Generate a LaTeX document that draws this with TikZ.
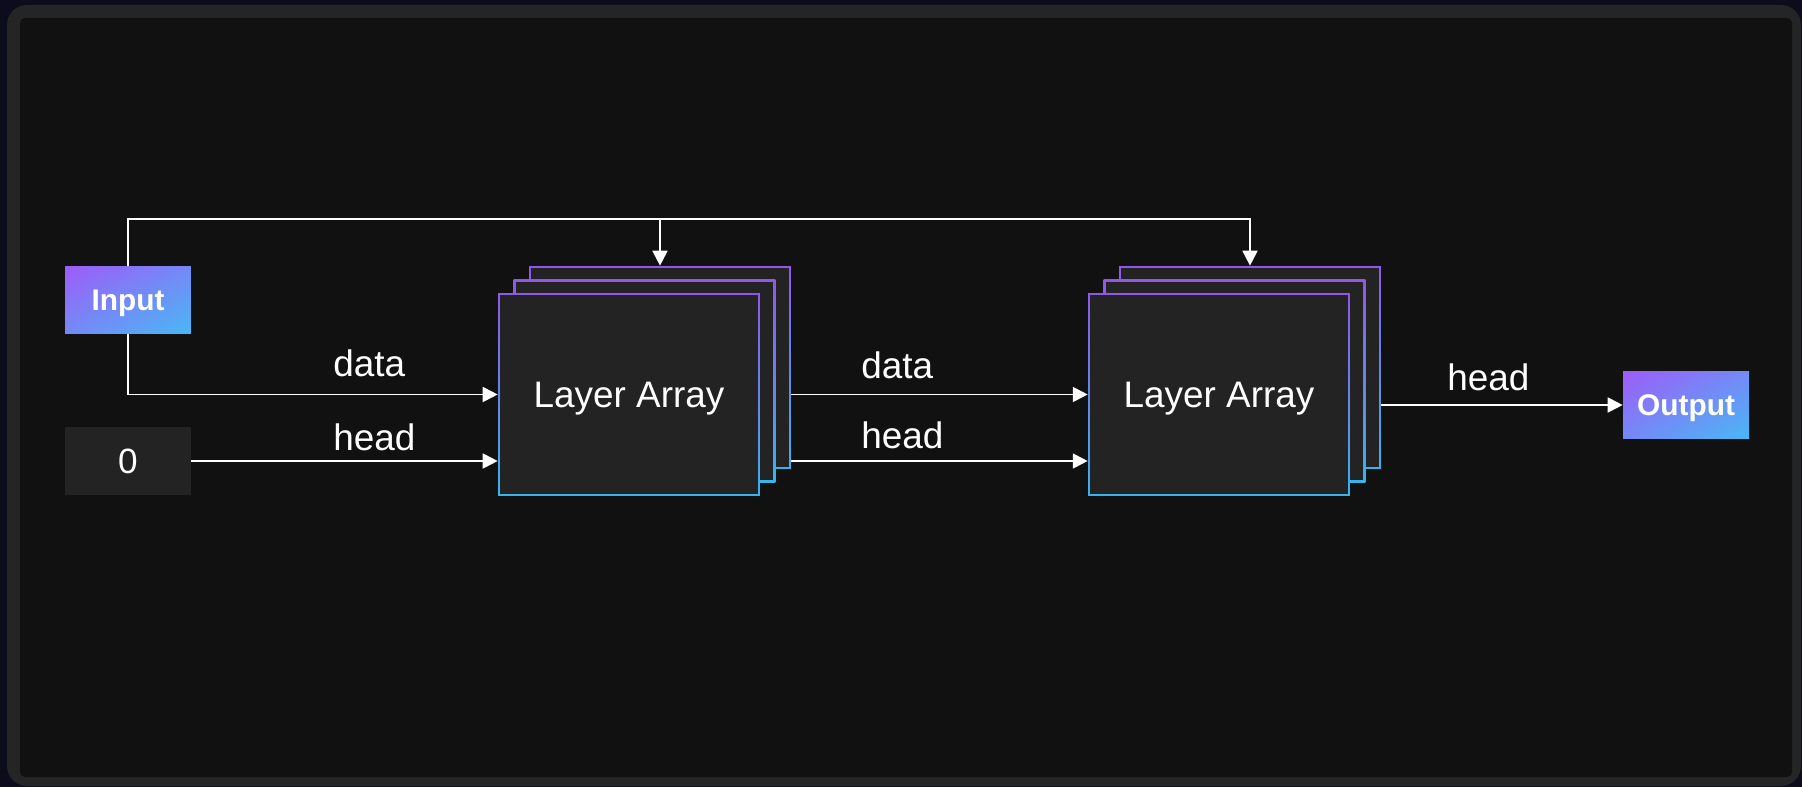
\documentclass[tikz,border=0pt]{standalone}
\usepackage{fontspec}
\setmainfont{Liberation Sans}
\usetikzlibrary{positioning,calc,arrows.meta,shadings}

\definecolor{navy}{HTML}{0C0C1C}
\definecolor{frame}{HTML}{252525}
\definecolor{canvas}{HTML}{111111}
\definecolor{panel}{HTML}{232323}
\definecolor{gradtop}{HTML}{9D5CF8}
\definecolor{gradmid}{HTML}{748AF6}
\definecolor{gradbot}{HTML}{48B8F5}
\definecolor{edgetop}{HTML}{9058EA}
\definecolor{edgebot}{HTML}{36B4EE}

\begin{document}
\begin{tikzpicture}[x=0.02cm, y=-0.02cm,
  wire/.style={white, line width=1.1pt, -{Triangle[length=8.5pt,width=8.5pt]}},
  io/.style={rectangle, minimum width=2.52cm, minimum height=1.36cm, inner sep=0pt,
    text depth=0pt, upper left=gradtop, lower right=gradbot, upper right=gradmid, lower left=gradmid,
    text=white, font=\fontsize{17}{20}\selectfont\bfseries},
  zerobox/.style={rectangle, fill=panel, minimum width=2.52cm, minimum height=1.36cm,
    inner sep=0pt, text=white, font=\fontsize{20}{24}\selectfont},
  layer/.style={rectangle, minimum width=5.24cm, minimum height=4.06cm, inner sep=0pt,
    text depth=0pt, top color=edgetop, bottom color=edgebot,
    path picture={\fill[panel] ([shift={(2,2)}]path picture bounding box.north west)
      rectangle ([shift={(-2,-2)}]path picture bounding box.south east);},
    text=white, font=\fontsize{21}{25}\selectfont},
  lbl/.style={anchor=base west, inner sep=0pt, text=white, font=\fontsize{21}{25}\selectfont}]

% frame
\useasboundingbox (0,0) rectangle (1802,787);
\fill[navy] (0,0) rectangle (1802,787);
\fill[frame, rounded corners=0.4cm] (7,5) rectangle (1801,786);
\fill[canvas, rounded corners=0.1cm] (20,18) rectangle (1792,777);

% inputs and output
\node[io] (inp) at (128,300) {Input};
\node[zerobox] (zero) at (128,461) {0};
\node[io] (outp) at (1686,405) {Output};

% two stacks of layer arrays, back to front
\foreach \s/\cx in {1/629,2/1219}{
  \node[layer] (back\s) at (\cx+31,367.5) {};
  \node[layer] (mid\s) at (\cx+15.5,381) {};
  \node[layer] (lay\s) at (\cx,394.5) {Layer Array};
}

\coordinate (top) at (0,219);

% wires
\draw[wire] (inp.north) |- (back2.north |- top) -- (back2.north);
\draw[wire] (back1.north |- top) -- (back1.north);
\draw[wire] (inp.south) |- (lay1.west);
\draw[wire] (zero.east) -- (zero.east -| lay1.west);
\draw[wire] (back1.east |- lay2.west) -- (lay2.west);
\draw[wire] (back1.east |- zero.east) -- (lay2.west |- zero.east);
\draw[wire] (back2.east |- outp.west) -- (outp.west);

% wire labels
\node[lbl] (dataA) at (333,376) {data};
\node[lbl] (headA) at (333,450) {head};
\node[lbl] (dataB) at (861,378) {data};
\node[lbl] (headB) at (861,448) {head};
\node[lbl] (headC) at (1447,390) {head};
\end{tikzpicture}
\end{document}
